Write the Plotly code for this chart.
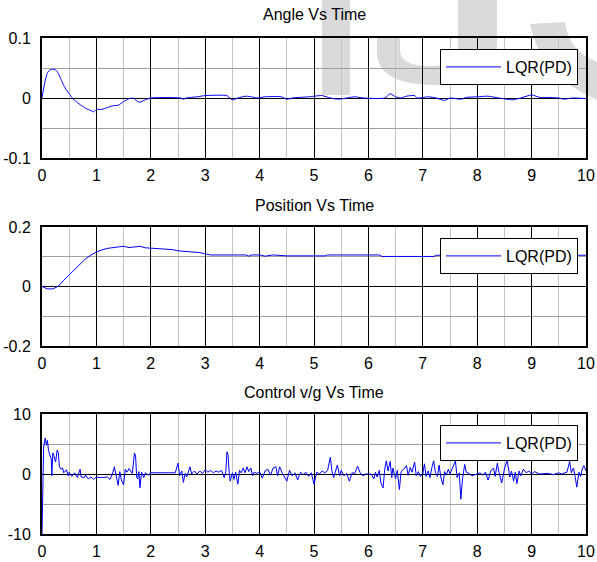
import plotly.graph_objects as go

# ---- data -----------------------------------------------------------------
x_ticks = [0, 1, 2, 3, 4, 5, 6, 7, 8, 9, 10]
x_tick_labels = ["0", "1", "2", "3", "4", "5", "6", "7", "8", "9", "10"]

angle_ticks = [-0.1, 0, 0.1]
angle_tick_labels = ["-0.1", "0", "0.1"]
pos_ticks = [-0.2, 0, 0.2]
pos_tick_labels = ["-0.2", "0", "0.2"]
ctrl_ticks = [-10, 0, 10]
ctrl_tick_labels = ["-10", "0", "10"]

titles = ["Angle Vs Time", "Position Vs Time", "Control v/g Vs Time"]
series_name = "LQR(PD)"

angle_t = [0, 0.05, 0.1, 0.15, 0.2, 0.25, 0.3, 0.35, 0.4, 0.45,
           0.5, 0.55, 0.6, 0.7, 0.8, 0.9, 0.95, 1.0, 1.1, 1.2,
           1.3, 1.4, 1.5, 1.6, 1.7, 1.75, 1.8, 1.9, 2.0, 2.55,
           2.6, 2.65, 2.85, 3.0, 3.4, 3.45, 3.5, 3.6, 3.75, 3.85,
           3.95, 4.1, 4.4, 4.5, 4.6, 4.9, 5.0, 5.15, 5.3, 5.45,
           5.6, 5.75, 5.9, 6.3, 6.4, 6.5, 6.6, 6.7, 6.85, 6.9,
           7.1, 7.25, 7.4, 7.5, 7.7, 7.8, 8.0, 8.2, 8.4, 8.65,
           8.8, 9.0, 9.15, 9.3, 9.5, 9.6, 9.75, 10]
angle = [0, 0.025, 0.042, 0.047, 0.048, 0.047, 0.041, 0.031, 0.021, 0.013,
         0.007, 0.001, -0.004, -0.011, -0.017, -0.021, -0.023, -0.019, -0.019, -0.016,
         -0.013, -0.012, -0.006, -0.001, -0.0005, -0.006, -0.007, -0.003, 0, 0,
         -0.002, 0, 0.002, 0.004, 0.004, 0, -0.003, 0, 0.003, 0.002,
         0, 0.002, 0.002, -0.002, 0, 0.002, 0.003, 0.004, 0, -0.002,
         0, 0.002, 0, 0, 0.007, 0.002, 0, 0.003, 0.004, 0,
         0.002, 0, -0.004, 0, -0.002, 0.001, 0.002, 0.003, 0, -0.003,
         0, 0.005, 0.001, 0.001, 0, -0.002, 0, -0.001]

pos_t = [0, 0.05, 0.1, 0.2, 0.3, 0.4, 0.5, 0.6, 0.7, 0.8,
         0.9, 1.0, 1.1, 1.2, 1.4, 1.5, 1.6, 1.8, 1.9, 2.0,
         2.2, 2.4, 2.5, 2.7, 2.8, 2.9, 3.0, 3.1, 3.5, 3.75,
         3.8, 3.85, 4.0, 4.1, 4.25, 4.5, 5.2, 5.25, 6.2, 6.25,
         7.2, 7.25, 10]
position = [0, -0.005, -0.008, -0.008, 0.001, 0.021, 0.039, 0.056, 0.076, 0.093,
            0.106, 0.116, 0.123, 0.128, 0.133, 0.135, 0.131, 0.135, 0.130, 0.129,
            0.126, 0.124, 0.120, 0.118, 0.116, 0.114, 0.110, 0.106, 0.106, 0.106,
            0.102, 0.106, 0.106, 0.102, 0.106, 0.103, 0.103, 0.106, 0.106, 0.101,
            0.101, 0.105, 0.105]

ctrl_t = [
    0, 0.03, 0.06, 0.08, 0.1, 0.12, 0.15, 0.17, 0.18, 0.2,
    0.22, 0.25, 0.28, 0.3, 0.32, 0.35, 0.38, 0.4, 0.45, 0.48,
    0.5, 0.55, 0.6, 0.65, 0.7, 0.72, 0.78, 0.8, 0.85, 0.9,
    0.95, 1.0, 1.1, 1.2, 1.25, 1.3, 1.33, 1.36, 1.4, 1.43,
    1.46, 1.5, 1.53, 1.56, 1.6, 1.63, 1.66, 1.7, 1.72, 1.74,
    1.76, 1.78, 1.8, 1.83, 1.87, 1.9, 1.95, 2.0, 2.2, 2.3,
    2.45, 2.5, 2.53, 2.57, 2.6, 2.63, 2.66, 2.7, 2.72, 2.75,
    2.8, 2.85, 2.9, 2.95, 3.0, 3.05, 3.1, 3.15, 3.2, 3.25,
    3.3, 3.35, 3.38, 3.4, 3.42, 3.44, 3.46, 3.5, 3.53, 3.56,
    3.6, 3.63, 3.66, 3.7, 3.73, 3.77, 3.8, 3.84, 3.87, 3.9,
    3.95, 4.0, 4.05, 4.1, 4.15, 4.2, 4.25, 4.3, 4.33, 4.37,
    4.42, 4.5, 4.55, 4.6, 4.65, 4.7, 4.75, 4.8, 4.85, 4.9,
    4.95, 5.0, 5.05, 5.1, 5.15, 5.2, 5.25, 5.3, 5.33, 5.36,
    5.4, 5.43, 5.47, 5.5, 5.55, 5.6, 5.65, 5.7, 5.75, 5.8,
    5.85, 5.9, 5.95, 6.05, 6.1, 6.13, 6.16, 6.2, 6.23, 6.27,
    6.3, 6.33, 6.36, 6.4, 6.43, 6.45, 6.5, 6.53, 6.57, 6.6,
    6.65, 6.7, 6.73, 6.77, 6.8, 6.85, 6.88, 6.92, 6.95, 7.0,
    7.03, 7.06, 7.1, 7.13, 7.17, 7.2, 7.23, 7.27, 7.3, 7.33,
    7.37, 7.4, 7.43, 7.47, 7.5, 7.55, 7.6, 7.63, 7.67, 7.7,
    7.73, 7.77, 7.8, 7.85, 7.9, 8.0, 8.05, 8.1, 8.15, 8.2,
    8.25, 8.3, 8.33, 8.37, 8.4, 8.45, 8.5, 8.55, 8.6, 8.63,
    8.67, 8.7, 8.73, 8.77, 8.8, 8.85, 8.9, 8.95, 9.0, 9.05,
    9.1, 9.15, 9.3, 9.4, 9.5, 9.55, 9.65, 9.7, 9.73, 9.77,
    9.8, 9.83, 9.87, 9.9, 9.93, 9.96, 10.0]
ctrl_u = [
    -10, 4.5, 6.0, 4.8, 5.6, 3.9, 3.0, 2.5, -0.3, 3.5,
    3.0, 2.0, 4.0, 3.5, 1.2, 0.8, 1.0, 0.2, 0.7, -0.3,
    0.3, -0.4, 0.2, -0.6, 0.8, -0.5, -0.6, -0.2, -0.8, -0.5,
    -0.9, -0.5, -0.6, -0.5, -0.9, 0.2, 1.2, -0.4, -1.9, 0.4,
    -1.0, -1.8, 0.8, 0.3, 0.9, 0.5, 0.1, 3.5, 3.0, -0.5,
    -0.8, 0.4, -2.3, 0.3, -0.6, 0.2, -0.2, 0.2, 0.2, 0.1,
    0.2, 1.8, -0.3, 0.5, -1.4, 0.1, -0.5, 0.6, 1.2, 0.0,
    0.5, 0.0, 0.5, 0.1, 0.7, 0.3, 0.6, 0.2, 0.5, 0.3,
    0.6, -0.6, 0.5, 3.7, 3.2, 0.3, -1.2, 0.2, -0.9, 0.3,
    -1.7, 0.6, 0.2, 1.0, 0.2, 1.2, 0.4, 1.0, -0.3, 0.3,
    0.1, 0.4, -0.7, 0.5, 0.8, -0.2, 1.0, 1.2, -0.3, 1.2,
    0.1, -1.2, 0.6, -0.3, 0.2, -1.0, 0.3, -0.1, 0.3, -0.4,
    0.2, -1.7, 0.3, 0.0, 0.5, 0.2, 0.6, 2.8, 0.5, -0.6,
    0.4, 1.5, -0.3, 0.6, -0.3, 0.1, -1.2, 0.2, 0.1, 1.3,
    0.2, -0.3, 0.0, 0.0, -0.8, 0.3, -0.5, 0.6, -1.5, -2.3,
    0.8, 2.2, 0.5, 2.1, -0.6, 1.0, -0.8, 0.6, -2.6, 0.4,
    0.8, 1.4, -0.2, 1.1, 0.3, 2.0, -0.3, 0.4, -0.4, 0.0,
    1.7, -0.4, 0.5, -0.6, 1.2, 2.2, 0.3, -0.4, 1.5, -0.5,
    -1.8, 0.4, -0.2, 0.8, 0.0, 1.0, 2.2, -0.6, 0.2, -4.2,
    -0.8, 1.6, 0.3, 0.1, -0.3, 0.0, 0.2, -0.2, 0.3, -1.0,
    0.5, 1.0, -0.4, 1.8, 0.3, -1.5, 0.8, 2.3, -0.5, 0.5,
    -1.2, 0.3, -1.6, 0.5, -0.3, 0.8, 0.2, 0.5, 0.0, 0.4,
    0.2, 0.0, 0.1, -0.1, 0.2, 0.0, 0.3, 2.1, 0.2, 1.0,
    -0.4, -2.2, 0.3, -0.4, 0.8, 1.4, 0.5]

# ---- page geometry (pixels) ------------------------------------------------
W, H = 597, 562
ML, MR, MT, MB = 42, 11, 38, 28
PW = W - ML - MR
PH = H - MT - MB


def px(x):
    return (x - ML) / PW


def py(y):
    return 1 - (y - MT) / PH


FONT = "Liberation Sans, Arial, Helvetica, sans-serif"
BLUE = "#0000ff"

panels = [
    dict(t=angle_t, v=angle, ticks=angle_ticks, labels=angle_tick_labels,
         minor=0.05, top=38, bottom=158, title_y=15, shape="spline"),
    dict(t=pos_t, v=position, ticks=pos_ticks, labels=pos_tick_labels,
         minor=0.1, top=227, bottom=346, title_y=205, shape="linear"),
    dict(t=ctrl_t, v=ctrl_u, ticks=ctrl_ticks, labels=ctrl_tick_labels,
         minor=5, top=414, bottom=534, title_y=392, shape="linear"),
]

fig = go.Figure()
layout = dict(
    width=W, height=H,
    margin=dict(l=ML, r=MR, t=MT, b=MB, pad=0, autoexpand=False),
    paper_bgcolor="white",
    plot_bgcolor="rgba(0,0,0,0)",
    font=dict(family=FONT, size=16, color="black"),
    showlegend=True,
)

annotations = []
for i, p in enumerate(panels):
    k = "" if i == 0 else str(i + 1)
    leg = "legend" + k
    fig.add_trace(go.Scatter(
        x=p["t"], y=p["v"], mode="lines", name=series_name,
        line=dict(color=BLUE, width=1, shape=p["shape"], smoothing=0.6),
        xaxis="x" + k, yaxis="y" + k, legend=leg,
        hoverinfo="skip",
    ))
    layout["xaxis" + k] = dict(
        domain=[0, 1], anchor="y" + k, range=[0, 10], automargin=False,
        tickmode="array", tickvals=x_ticks, ticktext=x_tick_labels,
        showgrid=True, gridcolor="black", gridwidth=1.3,
        minor=dict(tickmode="linear", tick0=0, dtick=0.5, showgrid=True,
                   gridcolor="#c4c4c4", gridwidth=1),
        showline=True, mirror=True, linecolor="black", linewidth=2,
        zeroline=False, ticks="", ticklabelstandoff=2,
        tickfont=dict(family=FONT, size=16, color="black"),
    )
    layout["yaxis" + k] = dict(
        domain=[py(p["bottom"]), py(p["top"])], anchor="x" + k,
        range=[p["ticks"][0], p["ticks"][-1]], automargin=False,
        tickmode="array", tickvals=p["ticks"], ticktext=p["labels"],
        showgrid=True, gridcolor="black", gridwidth=1.3,
        minor=dict(tickmode="linear", tick0=0, dtick=p["minor"], showgrid=True,
                   gridcolor="#a0a0a0", gridwidth=1),
        showline=True, mirror=True, linecolor="black", linewidth=2,
        zeroline=False, ticks="", ticklabelstandoff=6,
        tickfont=dict(family=FONT, size=16, color="black"),
    )
    layout[leg] = dict(
        x=px(578), xanchor="right", y=py(p["top"] + 11), yanchor="top",
        bgcolor="white", bordercolor="black", borderwidth=1,
        font=dict(family=FONT, size=16, color="black"),
        itemwidth=55,
    )
    annotations.append(dict(
        text=titles[i], xref="paper", yref="paper",
        x=px((ML + W - MR) / 2), y=py(p["title_y"]),
        xanchor="center", yanchor="middle", showarrow=False,
        font=dict(family=FONT, size=16, color="black"),
    ))

# faint background lettering in the upper right corner
WM = "rgb(218,218,218)"

shapes = [
    dict(type="rect", xref="paper", yref="paper", layer="below",
         x0=px(322), x1=px(350), y0=py(95), y1=py(0),
         fillcolor=WM, line=dict(width=0)),
    dict(type="path", xref="paper", yref="paper", layer="below",
         path=(f"M {px(377)},{py(37)} L {px(377)},{py(55)} "
               f"Q {px(380)},{py(85)} {px(437)},{py(85)} "
               f"Q {px(497)},{py(85)} {px(497)},{py(50)} "
               f"L {px(497)},{py(0)} L {px(458)},{py(0)} L {px(458)},{py(50)} "
               f"Q {px(458)},{py(66)} {px(430)},{py(66)} "
               f"Q {px(400)},{py(66)} {px(400)},{py(50)} "
               f"L {px(400)},{py(37)} Z"),
         fillcolor=WM, line=dict(width=0)),
    dict(type="path", xref="paper", yref="paper", layer="below",
         path=(f"M {px(530)},{py(24)} Q {px(540)},{py(75)} {px(597)},{py(100)} "
               f"L {px(597)},{py(62)} Q {px(568)},{py(50)} {px(565)},{py(22)} Z"),
         fillcolor=WM, line=dict(width=0)),
]

layout["annotations"] = annotations
layout["shapes"] = shapes
fig.update_layout(**layout)

fig.write_html("out.html")
